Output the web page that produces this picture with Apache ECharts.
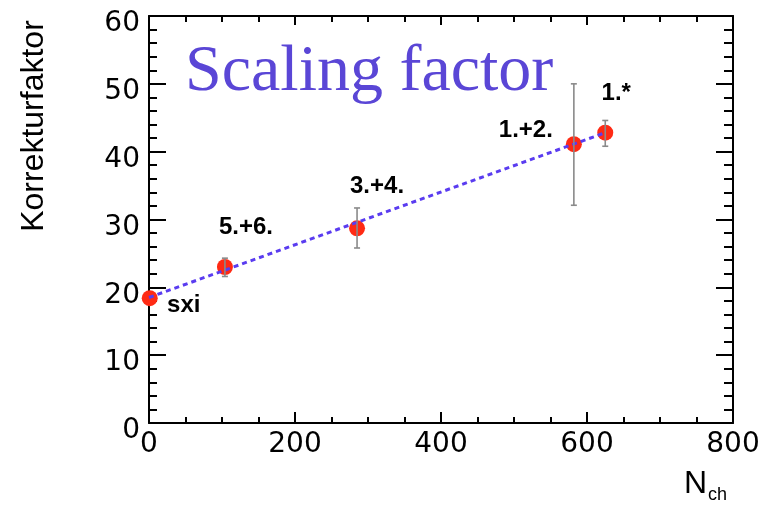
<!DOCTYPE html>
<html><head><meta charset="utf-8">
<script src="https://cdn.jsdelivr.net/npm/echarts@6/dist/echarts.min.js"></script>
<style>html,body{margin:0;padding:0;background:#fff}#c{width:774px;height:507px}</style>
</head><body><div id="c"></div>
<script>
// ---- data ----
const pointNames = ['sxi', '5.+6.', '3.+4.', '1.+2.', '1.*'];
const nch = [1, 104, 285, 582, 625];
const factor = [18.4, 23.0, 28.7, 41.1, 42.8];
const errLow = [18.4, 21.6, 25.8, 32.1, 40.8];
const errHigh = [18.4, 24.3, 31.7, 50.0, 44.6];
const fitX = [0, 625];
const fitY = [18.5, 42.8];
const xTicks = [0, 200, 400, 600, 800];
const yTicks = [0, 10, 20, 30, 40, 50, 60];

// ---- styling (kept apart from data) ----
const labelOffsets = [[34, 7], [21, -40], [20, -42], [-48, -14], [11, -39]];

const chart = echarts.init(document.getElementById('c'));
const axisLine = {show: true, onZero: false, lineStyle: {color: '#000', width: 2}};
const tickFont = 'DejaVu Sans';

const option = {
  animation: false,
  backgroundColor: '#fff',
  grid: {left: 149, right: 41, top: 16, bottom: 84, show: false},
  title: {
    text: 'Scaling factor', left: 180, top: 35,
    textStyle: {fontFamily: 'Liberation Serif', fontWeight: 'normal', fontSize: 66, color: '#5a46d6'}
  },
  xAxis: [
    {type: 'value', position: 'bottom', min: xTicks[0], max: xTicks[xTicks.length - 1], interval: 200,
     axisLine: axisLine, splitLine: {show: false},
     axisTick: {inside: true, length: 11, lineStyle: {color: '#000', width: 2}},
     minorTick: {show: true, splitNumber: 4, length: 6, lineStyle: {color: '#000', width: 2}},
     axisLabel: {margin: 8, fontFamily: tickFont, fontSize: 28, color: '#000'}},
    {type: 'value', position: 'top', min: xTicks[0], max: xTicks[xTicks.length - 1], interval: 200,
     axisLine: axisLine, splitLine: {show: false},
     axisTick: {inside: true, length: 9, lineStyle: {color: '#000', width: 2}},
     minorTick: {show: true, splitNumber: 4, length: 6, lineStyle: {color: '#000', width: 2}},
     axisLabel: {show: false}}
  ],
  yAxis: [
    {type: 'value', position: 'left', min: yTicks[0], max: yTicks[yTicks.length - 1], interval: 10,
     axisLine: axisLine, splitLine: {show: false},
     axisTick: {inside: true, length: 17, lineStyle: {color: '#000', width: 2}},
     minorTick: {show: true, splitNumber: 5, length: 8, lineStyle: {color: '#000', width: 2}},
     axisLabel: {margin: 9, color: '#000', formatter: '{a|{value}}',
                 rich: {a: {fontFamily: tickFont, fontSize: 28, color: '#000', padding: [16, 0, 0, 0]}}}},
    {type: 'value', position: 'right', min: yTicks[0], max: yTicks[yTicks.length - 1], interval: 10,
     axisLine: axisLine, splitLine: {show: false},
     axisTick: {inside: true, length: 17, lineStyle: {color: '#000', width: 2}},
     minorTick: {show: true, splitNumber: 5, length: 9, lineStyle: {color: '#000', width: 2}},
     axisLabel: {show: false}}
  ],
  graphic: [
    {type: 'text', x: 34, y: 126, rotation: Math.PI / 2, originX: 0, originY: 0,
     style: {text: 'Korrekturfaktor', fontFamily: 'Liberation Sans', fontSize: 32, fill: '#000',
             align: 'center', verticalAlign: 'middle'}},
    {type: 'text', x: 684, y: 468,
     style: {text: '{n|N}{s|ch}', fill: '#000',
             rich: {n: {fontFamily: 'Liberation Sans', fontSize: 32, lineHeight: 32},
                    s: {fontFamily: 'Liberation Sans', fontSize: 18, padding: [22, 0, 0, 1], lineHeight: 32}}}}
  ],
  series: [
    {type: 'scatter', z: 2, symbol: 'circle', symbolSize: 16,
     itemStyle: {color: '#ff2a14', opacity: 1},
     data: nch.map((x, i) => ({
       value: [x, factor[i]],
       label: {show: true, position: 'inside', offset: labelOffsets[i], formatter: pointNames[i],
               fontFamily: 'Liberation Sans', fontWeight: 'bold', fontSize: 24, color: '#000'}
     }))},
    {type: 'line', z: 3, showSymbol: false, symbol: 'none',
     lineStyle: {color: '#5a3cf0', width: 3, type: [5, 4]},
     data: fitX.map((x, i) => [x, fitY[i]])},
    {type: 'custom', z: 4,
     data: nch.map((x, i) => [x, errLow[i], errHigh[i]]),
     renderItem: function (params, api) {
       const x = api.value(0);
       const lo = api.coord([x, api.value(1)]);
       const hi = api.coord([x, api.value(2)]);
       if (Math.abs(lo[1] - hi[1]) < 1) return null;
       const st = {stroke: '#8a8a8a', lineWidth: 1.6};
       return {type: 'group', children: [
         {type: 'line', shape: {x1: lo[0], y1: lo[1], x2: hi[0], y2: hi[1]}, style: st},
         {type: 'line', shape: {x1: lo[0] - 3, y1: lo[1], x2: lo[0] + 3, y2: lo[1]}, style: st},
         {type: 'line', shape: {x1: hi[0] - 3, y1: hi[1], x2: hi[0] + 3, y2: hi[1]}, style: st}
       ]};
     }}
  ]
};
chart.setOption(option);
</script>
</body></html>
